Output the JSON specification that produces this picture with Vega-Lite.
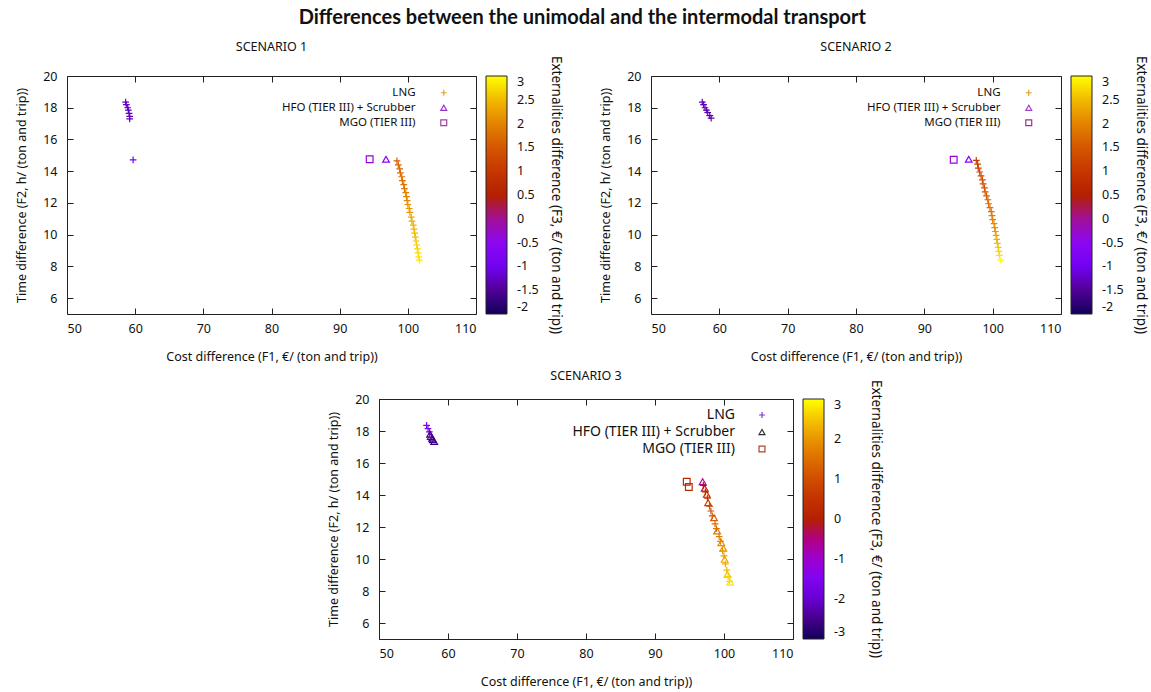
{
  "$schema": "https://vega.github.io/schema/vega-lite/v6.json",
  "padding": {"left": 15, "top": 8, "right": 0, "bottom": 2},
  "background": "white",
  "title": {"text": "Differences between the unimodal and the intermodal transport", "font": "Lato", "fontSize": 20, "fontWeight": "bold", "anchor": "middle", "color": "#111", "offset": 12},
  "config": {
    "font": "Noto Sans",
    "view": {"stroke": "#222", "strokeWidth": 1},
    "axis": {"grid": false, "domain": false, "tickSize": -6, "tickColor": "#222", "labelFontSize": 12.5, "labelColor": "#111", "labelFont": "Noto Sans", "titleFont": "Noto Sans", "titleFontSize": 12.5, "titleFontWeight": "normal", "titleColor": "#111", "titleLimit": 400},
    "axisX": {"labelPadding": 14, "titlePadding": 16},
    "axisY": {"labelPadding": 16, "titlePadding": 14},
    "legend": {"labelFont": "Noto Sans", "titleFont": "Noto Sans", "labelColor": "#111", "titleColor": "#111", "labelLimit": 300},
    "title": {"font": "Noto Sans", "fontSize": 12.5, "fontWeight": "normal", "color": "#111", "offset": 17}
  },
  "datasets": {
    "s1": [
      {"fuel": "LNG", "cost": 58.6, "time": 18.35, "ext": -1.2},
      {"fuel": "LNG", "cost": 58.7, "time": 18.2, "ext": -1.2},
      {"fuel": "LNG", "cost": 58.9, "time": 18.0, "ext": -1.25},
      {"fuel": "LNG", "cost": 59.0, "time": 17.85, "ext": -1.2},
      {"fuel": "LNG", "cost": 59.1, "time": 17.65, "ext": -1.3},
      {"fuel": "LNG", "cost": 59.2, "time": 17.45, "ext": -1.25},
      {"fuel": "LNG", "cost": 59.2, "time": 17.3, "ext": -1.3},
      {"fuel": "LNG", "cost": 59.7, "time": 14.72, "ext": -0.9},
      {"fuel": "HFO (TIER III) + Scrubber", "cost": 96.8, "time": 14.75, "ext": -0.5},
      {"fuel": "MGO (TIER III)", "cost": 94.4, "time": 14.75, "ext": -0.4},
      {"fuel": "LNG", "cost": 98.4, "time": 14.65, "ext": 1.55},
      {"fuel": "LNG", "cost": 98.6, "time": 14.4, "ext": 1.6},
      {"fuel": "LNG", "cost": 98.8, "time": 14.15, "ext": 1.65},
      {"fuel": "LNG", "cost": 98.9, "time": 13.9, "ext": 1.7},
      {"fuel": "LNG", "cost": 99.1, "time": 13.65, "ext": 1.75},
      {"fuel": "LNG", "cost": 99.2, "time": 13.4, "ext": 1.8},
      {"fuel": "LNG", "cost": 99.4, "time": 13.15, "ext": 1.85},
      {"fuel": "LNG", "cost": 99.5, "time": 12.9, "ext": 1.9},
      {"fuel": "LNG", "cost": 99.7, "time": 12.65, "ext": 1.95},
      {"fuel": "LNG", "cost": 99.8, "time": 12.4, "ext": 2.0},
      {"fuel": "LNG", "cost": 99.9, "time": 12.15, "ext": 2.05},
      {"fuel": "LNG", "cost": 100.0, "time": 11.9, "ext": 2.1},
      {"fuel": "LNG", "cost": 100.2, "time": 11.65, "ext": 2.15},
      {"fuel": "LNG", "cost": 100.3, "time": 11.4, "ext": 2.2},
      {"fuel": "LNG", "cost": 100.5, "time": 11.1, "ext": 2.3},
      {"fuel": "LNG", "cost": 100.6, "time": 10.85, "ext": 2.35},
      {"fuel": "LNG", "cost": 100.8, "time": 10.6, "ext": 2.4},
      {"fuel": "LNG", "cost": 100.9, "time": 10.35, "ext": 2.45},
      {"fuel": "LNG", "cost": 101.0, "time": 10.1, "ext": 2.5},
      {"fuel": "LNG", "cost": 101.1, "time": 9.85, "ext": 2.55},
      {"fuel": "LNG", "cost": 101.2, "time": 9.6, "ext": 2.6},
      {"fuel": "LNG", "cost": 101.3, "time": 9.35, "ext": 2.65},
      {"fuel": "LNG", "cost": 101.4, "time": 9.1, "ext": 2.7},
      {"fuel": "LNG", "cost": 101.5, "time": 8.85, "ext": 2.75},
      {"fuel": "LNG", "cost": 101.6, "time": 8.6, "ext": 2.8},
      {"fuel": "LNG", "cost": 101.7, "time": 8.4, "ext": 2.85}
    ],
    "s2": [
      {"fuel": "LNG", "cost": 57.5, "time": 18.35, "ext": -1.3},
      {"fuel": "LNG", "cost": 57.7, "time": 18.2, "ext": -1.3},
      {"fuel": "LNG", "cost": 57.9, "time": 18.0, "ext": -1.35},
      {"fuel": "LNG", "cost": 58.1, "time": 17.85, "ext": -1.3},
      {"fuel": "LNG", "cost": 58.3, "time": 17.7, "ext": -1.35},
      {"fuel": "LNG", "cost": 58.6, "time": 17.5, "ext": -1.4},
      {"fuel": "LNG", "cost": 58.8, "time": 17.35, "ext": -1.35},
      {"fuel": "MGO (TIER III)", "cost": 94.3, "time": 14.72, "ext": -0.35},
      {"fuel": "HFO (TIER III) + Scrubber", "cost": 96.5, "time": 14.75, "ext": -0.6},
      {"fuel": "LNG", "cost": 97.6, "time": 14.68, "ext": 1.0},
      {"fuel": "LNG", "cost": 97.8, "time": 14.45, "ext": 1.05},
      {"fuel": "LNG", "cost": 97.9, "time": 14.2, "ext": 1.1},
      {"fuel": "LNG", "cost": 98.1, "time": 13.95, "ext": 1.2},
      {"fuel": "LNG", "cost": 98.3, "time": 13.7, "ext": 1.25},
      {"fuel": "LNG", "cost": 98.5, "time": 13.45, "ext": 1.3},
      {"fuel": "LNG", "cost": 98.6, "time": 13.2, "ext": 1.35},
      {"fuel": "LNG", "cost": 98.8, "time": 12.95, "ext": 1.45},
      {"fuel": "LNG", "cost": 98.9, "time": 12.7, "ext": 1.5},
      {"fuel": "LNG", "cost": 99.1, "time": 12.45, "ext": 1.55},
      {"fuel": "LNG", "cost": 99.3, "time": 12.2, "ext": 1.6},
      {"fuel": "LNG", "cost": 99.4, "time": 11.95, "ext": 1.7},
      {"fuel": "LNG", "cost": 99.6, "time": 11.7, "ext": 1.75},
      {"fuel": "LNG", "cost": 99.8, "time": 11.45, "ext": 1.8},
      {"fuel": "LNG", "cost": 99.9, "time": 11.2, "ext": 1.9},
      {"fuel": "LNG", "cost": 100.0, "time": 10.95, "ext": 1.95},
      {"fuel": "LNG", "cost": 100.2, "time": 10.7, "ext": 2.05},
      {"fuel": "LNG", "cost": 100.3, "time": 10.45, "ext": 2.1},
      {"fuel": "LNG", "cost": 100.4, "time": 10.2, "ext": 2.2},
      {"fuel": "LNG", "cost": 100.5, "time": 9.95, "ext": 2.3},
      {"fuel": "LNG", "cost": 100.6, "time": 9.7, "ext": 2.4},
      {"fuel": "LNG", "cost": 100.7, "time": 9.45, "ext": 2.5},
      {"fuel": "LNG", "cost": 100.8, "time": 9.2, "ext": 2.6},
      {"fuel": "LNG", "cost": 100.9, "time": 8.95, "ext": 2.7},
      {"fuel": "LNG", "cost": 101.0, "time": 8.7, "ext": 2.8},
      {"fuel": "LNG", "cost": 101.2, "time": 8.4, "ext": 2.95}
    ],
    "s3": [
      {"fuel": "LNG", "cost": 56.9, "time": 18.35, "ext": -1.6},
      {"fuel": "LNG", "cost": 57.1, "time": 18.15, "ext": -1.5},
      {"fuel": "LNG", "cost": 57.3, "time": 17.95, "ext": -1.6},
      {"fuel": "HFO (TIER III) + Scrubber", "cost": 57.4, "time": 17.8, "ext": -2.5},
      {"fuel": "HFO (TIER III) + Scrubber", "cost": 57.5, "time": 17.65, "ext": -2.4},
      {"fuel": "HFO (TIER III) + Scrubber", "cost": 57.7, "time": 17.55, "ext": -2.6},
      {"fuel": "HFO (TIER III) + Scrubber", "cost": 57.8, "time": 17.45, "ext": -2.5},
      {"fuel": "HFO (TIER III) + Scrubber", "cost": 58.0, "time": 17.35, "ext": -2.6},
      {"fuel": "MGO (TIER III)", "cost": 94.6, "time": 14.83, "ext": 0.2},
      {"fuel": "MGO (TIER III)", "cost": 94.9, "time": 14.5, "ext": 0.3},
      {"fuel": "HFO (TIER III) + Scrubber", "cost": 96.9, "time": 14.83, "ext": -0.6},
      {"fuel": "HFO (TIER III) + Scrubber", "cost": 97.2, "time": 14.42, "ext": 0.1},
      {"fuel": "HFO (TIER III) + Scrubber", "cost": 97.5, "time": 14.04, "ext": 0.4},
      {"fuel": "HFO (TIER III) + Scrubber", "cost": 97.7, "time": 13.52, "ext": 0.8},
      {"fuel": "HFO (TIER III) + Scrubber", "cost": 98.55, "time": 12.58, "ext": 1.3},
      {"fuel": "HFO (TIER III) + Scrubber", "cost": 99.0, "time": 11.75, "ext": 1.6},
      {"fuel": "HFO (TIER III) + Scrubber", "cost": 99.6, "time": 11.02, "ext": 1.9},
      {"fuel": "HFO (TIER III) + Scrubber", "cost": 99.9, "time": 10.67, "ext": 2.0},
      {"fuel": "HFO (TIER III) + Scrubber", "cost": 100.1, "time": 9.98, "ext": 2.2},
      {"fuel": "HFO (TIER III) + Scrubber", "cost": 100.5, "time": 9.04, "ext": 2.5},
      {"fuel": "HFO (TIER III) + Scrubber", "cost": 100.9, "time": 8.55, "ext": 2.8},
      {"fuel": "LNG", "cost": 97.0, "time": 14.6, "ext": -0.2},
      {"fuel": "LNG", "cost": 97.3, "time": 14.2, "ext": 0.3},
      {"fuel": "LNG", "cost": 97.6, "time": 13.8, "ext": 0.6},
      {"fuel": "LNG", "cost": 97.9, "time": 13.3, "ext": 0.9},
      {"fuel": "LNG", "cost": 98.1, "time": 13.0, "ext": 1.0},
      {"fuel": "LNG", "cost": 98.3, "time": 12.7, "ext": 1.2},
      {"fuel": "LNG", "cost": 98.7, "time": 12.2, "ext": 1.4},
      {"fuel": "LNG", "cost": 98.9, "time": 11.9, "ext": 1.5},
      {"fuel": "LNG", "cost": 99.3, "time": 11.4, "ext": 1.7},
      {"fuel": "LNG", "cost": 99.5, "time": 11.1, "ext": 1.8},
      {"fuel": "LNG", "cost": 99.8, "time": 10.5, "ext": 2.0},
      {"fuel": "LNG", "cost": 100.0, "time": 10.2, "ext": 2.1},
      {"fuel": "LNG", "cost": 100.2, "time": 9.7, "ext": 2.3},
      {"fuel": "LNG", "cost": 100.4, "time": 9.3, "ext": 2.4},
      {"fuel": "LNG", "cost": 100.6, "time": 8.9, "ext": 2.6},
      {"fuel": "LNG", "cost": 100.8, "time": 8.6, "ext": 2.7}
    ]
  },
  "vconcat": [
    {
      "hconcat": [
        {
          "title": "SCENARIO 1",
          "width": 409, "height": 238,
          "data": {"name": "s1"},
          "layer": [
            {
              "mark": {"type": "point", "filled": false, "strokeWidth": 1.2, "opacity": 1, "size": 45},
              "encoding": {
                "x": {"field": "cost", "type": "quantitative", "scale": {"domain": [50, 110], "nice": false, "zero": false}, "axis": {"orient": "bottom", "title": "Cost difference (F1, €/ (ton and trip))", "values": [50, 60, 70, 80, 90, 100, 110]}},
                "y": {"field": "time", "type": "quantitative", "scale": {"domain": [5, 20], "nice": false, "zero": false}, "axis": {"orient": "left", "title": "Time difference (F2, h/ (ton and trip))", "values": [6, 8, 10, 12, 14, 16, 18, 20]}},
                "color": {"field": "ext", "type": "quantitative",
                  "scale": {"domain": [-2, -1.5, -1, -0.5, 0, 0.5, 1, 1.5, 2, 2.5, 3], "range": ["#000000", "#510096", "#7202f2", "#8c07f2", "#a11096", "#b42000", "#c63700", "#d55700", "#e48300", "#f2ba00", "#ffff00"]},
                  "legend": {"orient": "right", "direction": "vertical", "title": "\u00a0\u00a0\u00a0\u00a0\u00a0\u00a0\u00a0\u00a0\u00a0\u00a0Externalities difference (F3, €/ (ton and trip))", "titleOrient": "right", "titleAnchor": "middle", "titleLimit": 400, "titleFontSize": 13.5, "titleFontWeight": "normal", "titlePadding": 10, "gradientLength": 238, "gradientThickness": 21, "gradientStrokeColor": "#222", "gradientStrokeWidth": 1, "values": [-2, -1.5, -1, -0.5, 0, 0.5, 1, 1.5, 2, 2.5, 3], "labelExpr": "'' + datum.value", "labelFontSize": 12.5, "labelOverlap": false, "labelOffset": 10, "offset": 9}},
                "shape": {"field": "fuel", "type": "nominal",
                  "scale": {"domain": ["LNG", "HFO (TIER III) + Scrubber", "MGO (TIER III)"], "range": ["M-1,0H1M0,-1V1", "triangle-up", "square"]},
                  "legend": {"orient": "none", "legendX": 369, "legendY": 9, "title": null, "labelAlign": "right", "labelOffset": -34, "labelFontSize": 11.5, "rowPadding": 2, "padding": 2, "symbolSize": 35, "symbolStrokeWidth": 1.2, "symbolFillColor": "transparent",
                    "symbolStrokeColor": {"expr": "datum.value === 'LNG' ? '#e8a317' : datum.value === 'MGO (TIER III)' ? '#a040a0' : '#9b30d0'"}}}
              }
            },
            {
              "mark": {"type": "point", "opacity": 0},
              "encoding": {
                "x": {"field": "cost", "type": "quantitative", "axis": {"orient": "top", "labels": false, "title": null, "values": [50, 60, 70, 80, 90, 100, 110]}},
                "y": {"field": "time", "type": "quantitative", "axis": {"orient": "right", "labels": false, "title": null, "values": [6, 8, 10, 12, 14, 16, 18, 20]}}
              }
            }
          ],
          "resolve": {"axis": {"x": "independent", "y": "independent"}}
        },
        {
          "title": "SCENARIO 2",
          "width": 410, "height": 238,
          "data": {"name": "s2"},
          "layer": [
            {
              "mark": {"type": "point", "filled": false, "strokeWidth": 1.2, "opacity": 1, "size": 45},
              "encoding": {
                "x": {"field": "cost", "type": "quantitative", "scale": {"domain": [50, 110], "nice": false, "zero": false}, "axis": {"orient": "bottom", "title": "Cost difference (F1, €/ (ton and trip))", "values": [50, 60, 70, 80, 90, 100, 110]}},
                "y": {"field": "time", "type": "quantitative", "scale": {"domain": [5, 20], "nice": false, "zero": false}, "axis": {"orient": "left", "title": "Time difference (F2, h/ (ton and trip))", "values": [6, 8, 10, 12, 14, 16, 18, 20]}},
                "color": {"field": "ext", "type": "quantitative",
                  "scale": {"domain": [-2, -1.5, -1, -0.5, 0, 0.5, 1, 1.5, 2, 2.5, 3], "range": ["#000000", "#510096", "#7202f2", "#8c07f2", "#a11096", "#b42000", "#c63700", "#d55700", "#e48300", "#f2ba00", "#ffff00"]},
                  "legend": {"orient": "right", "direction": "vertical", "title": "\u00a0\u00a0\u00a0\u00a0\u00a0\u00a0\u00a0\u00a0\u00a0\u00a0Externalities difference (F3, €/ (ton and trip))", "titleOrient": "right", "titleAnchor": "middle", "titleLimit": 400, "titleFontSize": 13.5, "titleFontWeight": "normal", "titlePadding": 10, "gradientLength": 238, "gradientThickness": 21, "gradientStrokeColor": "#222", "gradientStrokeWidth": 1, "values": [-2, -1.5, -1, -0.5, 0, 0.5, 1, 1.5, 2, 2.5, 3], "labelExpr": "'' + datum.value", "labelFontSize": 12.5, "labelOverlap": false, "labelOffset": 10, "offset": 9}},
                "shape": {"field": "fuel", "type": "nominal",
                  "scale": {"domain": ["LNG", "HFO (TIER III) + Scrubber", "MGO (TIER III)"], "range": ["M-1,0H1M0,-1V1", "triangle-up", "square"]},
                  "legend": {"orient": "none", "legendX": 370, "legendY": 9, "title": null, "labelAlign": "right", "labelOffset": -34, "labelFontSize": 11.5, "rowPadding": 2, "padding": 2, "symbolSize": 35, "symbolStrokeWidth": 1.2, "symbolFillColor": "transparent",
                    "symbolStrokeColor": {"expr": "datum.value === 'LNG' ? '#e0a020' : datum.value === 'MGO (TIER III)' ? '#a03090' : '#a040d0'"}}}
              }
            },
            {
              "mark": {"type": "point", "opacity": 0},
              "encoding": {
                "x": {"field": "cost", "type": "quantitative", "axis": {"orient": "top", "labels": false, "title": null, "values": [50, 60, 70, 80, 90, 100, 110]}},
                "y": {"field": "time", "type": "quantitative", "axis": {"orient": "right", "labels": false, "title": null, "values": [6, 8, 10, 12, 14, 16, 18, 20]}}
              }
            }
          ],
          "resolve": {"axis": {"x": "independent", "y": "independent"}}
        }
      ],
      "spacing": 34,
      "resolve": {"scale": {"x": "independent", "y": "independent", "color": "independent", "shape": "independent"}, "legend": {"color": "independent", "shape": "independent"}}
    },
    {
      "hconcat": [
        {
          "width": 260, "height": 10,
          "data": {"values": [{}]},
          "mark": {"type": "point", "opacity": 0},
          "encoding": {},
          "view": {"stroke": null}
        },
        {
          "title": {"text": "SCENARIO 3", "offset": 11},
          "width": 414, "height": 240,
          "data": {"name": "s3"},
          "layer": [
            {
              "mark": {"type": "point", "filled": false, "strokeWidth": 1.2, "opacity": 1, "size": 45},
              "encoding": {
                "x": {"field": "cost", "type": "quantitative", "scale": {"domain": [50, 110], "nice": false, "zero": false}, "axis": {"orient": "bottom", "title": "Cost difference (F1, €/ (ton and trip))", "values": [50, 60, 70, 80, 90, 100, 110]}},
                "y": {"field": "time", "type": "quantitative", "scale": {"domain": [5, 20], "nice": false, "zero": false}, "axis": {"orient": "left", "title": "Time difference (F2, h/ (ton and trip))", "values": [6, 8, 10, 12, 14, 16, 18, 20]}},
                "color": {"field": "ext", "type": "quantitative",
                  "scale": {"domain": [-3, -2.4, -1.8, -1.2, -0.6, 0, 0.6, 1.2, 1.8, 2.4, 3], "range": ["#000000", "#510096", "#7202f2", "#8c07f2", "#a11096", "#b42000", "#c63700", "#d55700", "#e48300", "#f2ba00", "#ffff00"]},
                  "legend": {"orient": "right", "direction": "vertical", "title": "\u00a0\u00a0\u00a0\u00a0\u00a0\u00a0\u00a0\u00a0\u00a0\u00a0Externalities difference (F3, €/ (ton and trip))", "titleOrient": "right", "titleAnchor": "middle", "titleLimit": 400, "titleFontSize": 13.5, "titleFontWeight": "normal", "titlePadding": 24, "gradientLength": 240, "gradientThickness": 21, "gradientStrokeColor": "#222", "gradientStrokeWidth": 1, "values": [-3, -2, -1, 0, 1, 2, 3], "labelExpr": "'' + datum.value", "labelFontSize": 12.5, "labelOverlap": false, "labelOffset": 10, "offset": 9}},
                "shape": {"field": "fuel", "type": "nominal",
                  "scale": {"domain": ["LNG", "HFO (TIER III) + Scrubber", "MGO (TIER III)"], "range": ["M-1,0H1M0,-1V1", "triangle-up", "square"]},
                  "legend": {"orient": "none", "legendX": 374, "legendY": 7, "title": null, "labelAlign": "right", "labelOffset": -34, "labelFontSize": 14, "labelLimit": 300, "rowPadding": 3, "padding": 2, "symbolSize": 35, "symbolStrokeWidth": 1.2, "symbolFillColor": "transparent",
                    "symbolStrokeColor": {"expr": "datum.value === 'LNG' ? '#8a2be2' : datum.value === 'MGO (TIER III)' ? '#b04030' : '#303030'"}}}
              }
            },
            {
              "mark": {"type": "point", "opacity": 0},
              "encoding": {
                "x": {"field": "cost", "type": "quantitative", "axis": {"orient": "top", "labels": false, "title": null, "values": [50, 60, 70, 80, 90, 100, 110]}},
                "y": {"field": "time", "type": "quantitative", "axis": {"orient": "right", "labels": false, "title": null, "values": [6, 8, 10, 12, 14, 16, 18, 20]}}
              }
            }
          ],
          "resolve": {"axis": {"x": "independent", "y": "independent"}}
        }
      ],
      "spacing": 0,
      "resolve": {"scale": {"color": "independent", "shape": "independent"}, "legend": {"color": "independent", "shape": "independent"}}
    }
  ],
  "spacing": 5,
  "resolve": {"scale": {"x": "independent", "y": "independent", "color": "independent", "shape": "independent"}, "legend": {"color": "independent", "shape": "independent"}}
}
